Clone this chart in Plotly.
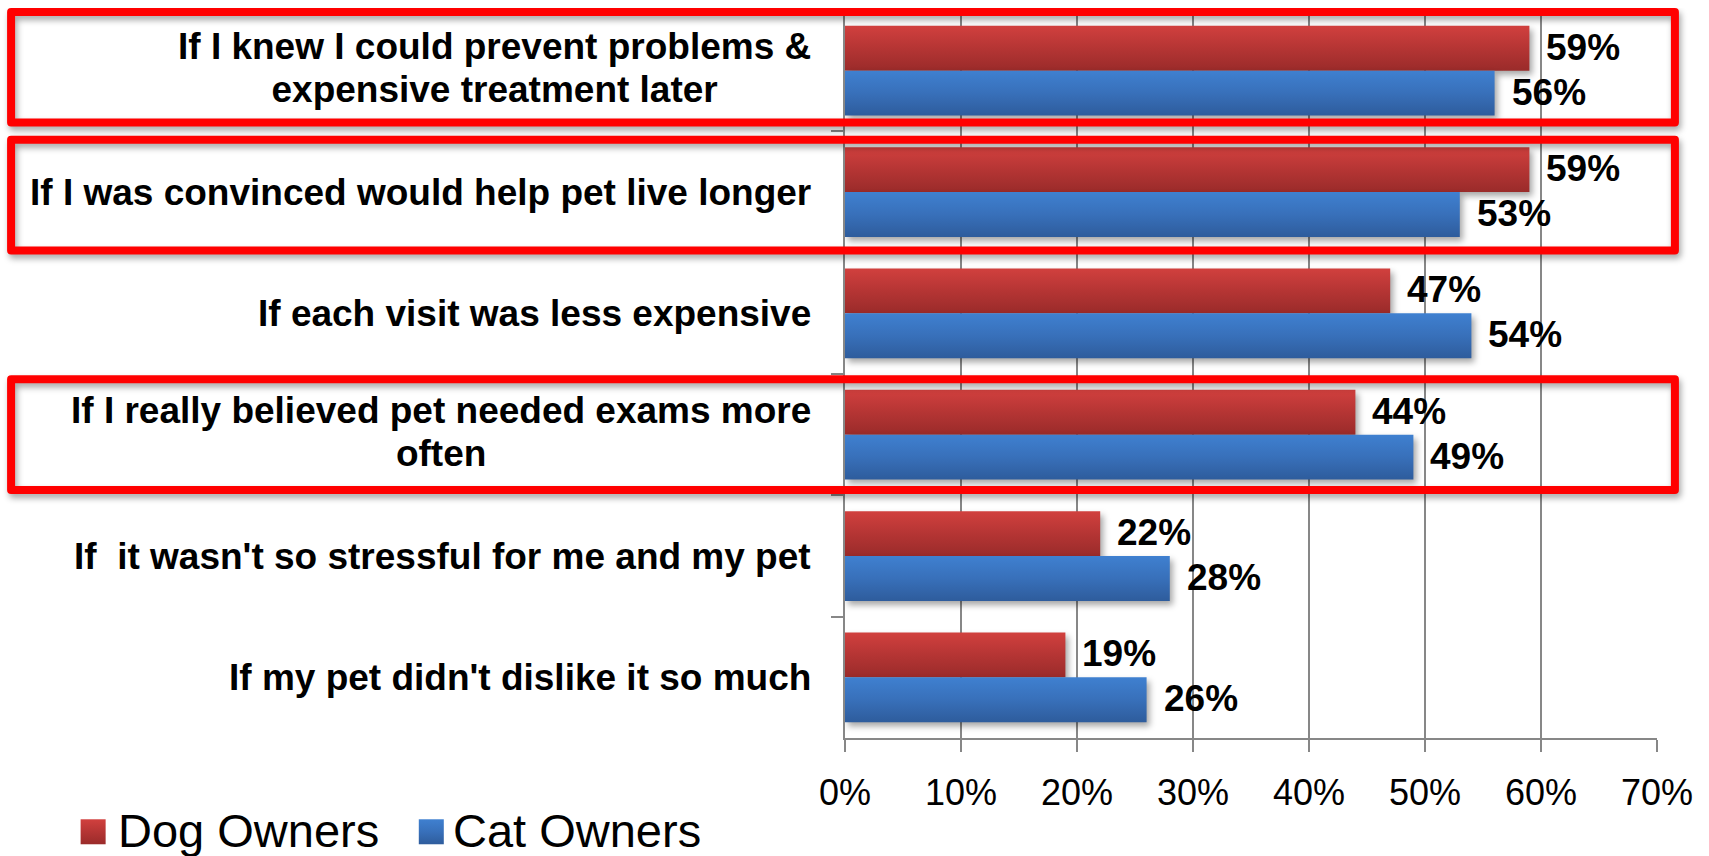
import plotly.graph_objects as go

# ---- data -------------------------------------------------------------
categories = [
    "If I knew I could prevent problems &<br>expensive treatment later",
    "If I was convinced would help pet live longer",
    "If each visit was less expensive",
    "If I really believed pet needed exams more<br>often",
    "If\u00a0 it wasn't so stressful for me and my pet",
    "If my pet didn't dislike it so much",
]
dog_owners = [59, 59, 47, 44, 22, 19]
cat_owners = [56, 53, 54, 49, 28, 26]
series_names = ["Dog Owners", "Cat Owners"]
x_tick_values = [0, 10, 20, 30, 40, 50, 60, 70]
x_tick_labels = ["0%", "10%", "20%", "30%", "40%", "50%", "60%", "70%"]

# ---- layout constants (pixels) ------------------------------------------
W, H = 1709, 856
PL, PR, PT, PB = 845, 1656.6, 7.5, 737.7      # plot area edges
FONT = "Liberation Sans, Arial, sans-serif"
GRID = "#878787"
RED_MID, BLUE_MID = "#b83736", "#376db5"
BARGAP = 0.26

# rows framed by a red outline: (row index, extent above centre, extent below)
framed_rows = [(0, 0.484, 0.427), (1, 0.431, 0.482), (3, 0.456, 0.456)]


def px(x):
    return (x - PL) / (PR - PL)


def py(y):
    return (PB - y) / (PB - PT)


fig = go.Figure()
for name, values, colour in [(series_names[0], dog_owners, RED_MID),
                             (series_names[1], cat_owners, BLUE_MID)]:
    fig.add_trace(go.Bar(
        y=categories, x=values, name=name, orientation="h",
        marker=dict(color=colour, line=dict(width=0)),
        showlegend=False, hoverinfo="skip",
    ))

annotations = []
# category labels, right-aligned against the axis, lines centred
for cat in categories:
    annotations.append(dict(
        x=0, xref="x", y=cat, yref="y", xanchor="right", yanchor="middle",
        xshift=-32, align="center", showarrow=False, text=cat,
        font=dict(family=FONT, size=37, color="black", weight="bold"),
    ))

# value labels next to each bar
half = (1 - BARGAP) / 4
for i in range(len(categories)):
    for values, off in [(dog_owners, -half), (cat_owners, half)]:
        annotations.append(dict(
            x=values[i], xref="x", y=i + off, yref="y",
            xanchor="left", yanchor="middle", xshift=15, yshift=1,
            showarrow=False, text=f"{values[i]}%",
            font=dict(family=FONT, size=37, color="black", weight="bold"),
        ))

shapes = []
for row, up, down in framed_rows:
    shapes.append(dict(
        type="rect", xref="paper", yref="y",
        x0=px(11.5), x1=px(1674.5), y0=row - up, y1=row + down,
        line=dict(color="#ff0000", width=8), fillcolor="rgba(0,0,0,0)",
        layer="above",
    ))

# legend drawn by hand so the swatches can be large
legend_items = [(series_names[0], RED_MID, 81, 116),
                (series_names[1], BLUE_MID, 419, 451)]
for name, colour, sx, tx in legend_items:
    shapes.append(dict(
        type="rect", xref="paper", yref="paper",
        x0=px(sx), x1=px(sx + 25), y0=py(844), y1=py(819),
        line=dict(width=0), fillcolor=colour, layer="above",
    ))
    annotations.append(dict(
        x=px(tx), xref="paper", y=py(830), yref="paper",
        xanchor="left", yanchor="middle", showarrow=False, text=name,
        font=dict(family=FONT, size=47, color="black"),
    ))

fig.update_layout(
    width=W, height=H,
    margin=dict(l=PL, r=W - PR, t=PT, b=H - PB, pad=0),
    paper_bgcolor="white", plot_bgcolor="white",
    barmode="group", bargap=BARGAP, bargroupgap=0,
    showlegend=False,
    annotations=annotations, shapes=shapes,
    xaxis=dict(
        range=[0, 70], tickmode="array", tickvals=x_tick_values,
        ticktext=x_tick_labels, ticks="outside", ticklen=12, tickwidth=2,
        tickcolor=GRID, showgrid=True, gridcolor=GRID, gridwidth=1.5,
        showline=True, linecolor=GRID, linewidth=2, zeroline=False,
        tickfont=dict(family=FONT, size=36, color="black"),
        ticklabelstandoff=10, fixedrange=True,
    ),
    yaxis=dict(
        type="category", autorange="reversed", showticklabels=False,
        ticks="outside", tickson="boundaries", ticklen=12, tickwidth=2,
        tickcolor=GRID, showgrid=False, showline=True, linecolor=GRID,
        linewidth=2, zeroline=False, fixedrange=True,
    ),
)

# gradient fills, soft shadows and tighter label leading on the rendered SVG
post_script = """
(function(){
  document.body.style.margin = '0';
  var gd = document.getElementById('{plot_id}');
  var ns = 'http://www.w3.org/2000/svg';
  var grads = {gDog: ['#d1403e', '#b53534', '#9a2b2a'],
               gCat: ['#3f80d0', '#3870ba', '#2e5c9c']};
  function paint(){
    var svg = gd.querySelector('svg.main-svg');
    if (!svg) return;
    var defs = svg.querySelector('defs');
    if (!defs) { defs = document.createElementNS(ns, 'defs'); svg.insertBefore(defs, svg.firstChild); }
    Object.keys(grads).forEach(function(id){
      if (svg.querySelector('#' + id)) return;
      var g = document.createElementNS(ns, 'linearGradient');
      g.setAttribute('id', id);
      g.setAttribute('x1', '0'); g.setAttribute('y1', '0');
      g.setAttribute('x2', '0'); g.setAttribute('y2', '1');
      grads[id].forEach(function(c, k){
        var s = document.createElementNS(ns, 'stop');
        s.setAttribute('offset', (k / 2 * 100) + '%');
        s.setAttribute('stop-color', c);
        g.appendChild(s);
      });
      defs.appendChild(g);
    });
    var ids = ['gDog', 'gCat'];
    gd.querySelectorAll('.barlayer .trace').forEach(function(t, k){
      t.querySelectorAll('path').forEach(function(p){
        p.style.setProperty('fill', 'url(#' + ids[k] + ')');
        p.style.setProperty('filter', 'drop-shadow(3px 4px 3px rgba(0,0,0,0.35))');
      });
    });
    gd.querySelectorAll('.layer-above .shapelayer path').forEach(function(p){
      var i = parseInt(p.getAttribute('data-index'));
      if (i < 3) {
        p.style.setProperty('stroke-linejoin', 'round');
        p.style.setProperty('filter', 'drop-shadow(2px 4px 3px rgba(0,0,0,0.35))');
      } else {
        p.style.setProperty('fill', 'url(#' + ids[i - 3] + ')');
      }
    });
    gd.querySelectorAll('.annotation-text').forEach(function(t){
      var lines = t.querySelectorAll('tspan.line');
      for (var k = 1; k < lines.length; k++) lines[k].setAttribute('dy', '1.15em');
    });
  }
  paint();
  gd.on('plotly_afterplot', paint);
  setTimeout(paint, 50);
})();
"""

fig.write_html("out.html", post_script=post_script,
               config={"displayModeBar": False})
